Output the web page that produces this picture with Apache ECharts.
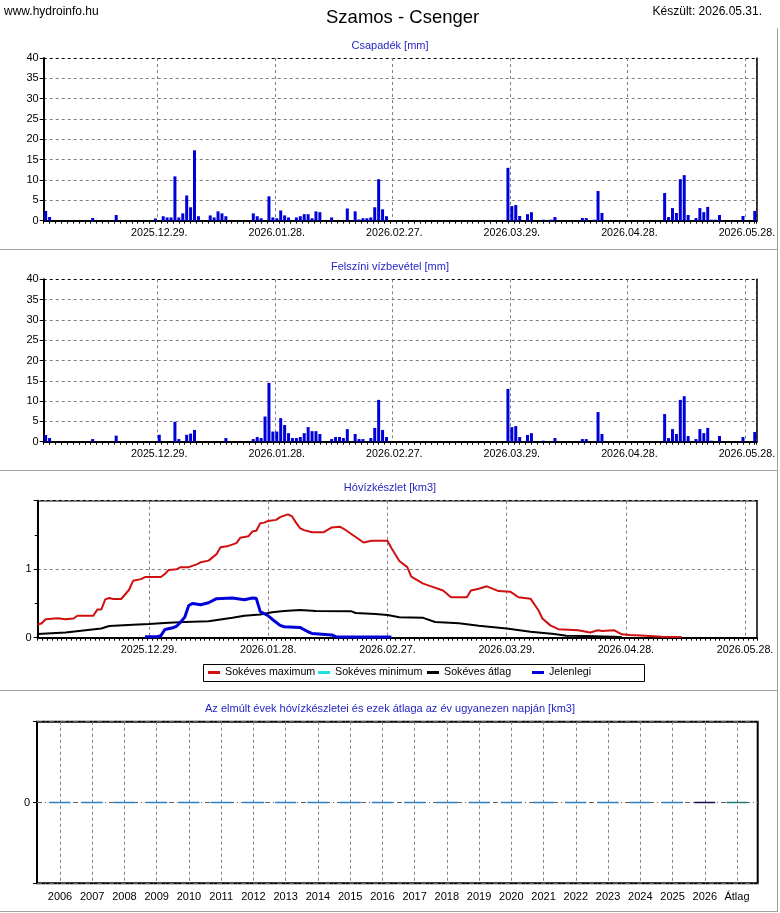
<!DOCTYPE html>
<html>
<head>
<meta charset="utf-8">
<title>Szamos - Csenger</title>
<script src="https://cdn.jsdelivr.net/npm/echarts@6/dist/echarts.min.js"></script>
<style>
html, body { margin: 0; padding: 0; background: #fff; }
#main { width: 780px; height: 913px; }
</style>
</head>
<body>
<div id="main"></div>
<script>
var FONT = 'Liberation Sans, Arial, sans-serif';

// napi csapadék [mm]: [nap indexe, érték]
var csapadek = [[0,2.4],[1,0.9],[12,0.65],[18,1.4],[28,0.55],[30,1.1],[31,0.8],[32,0.8],[33,10.9],[34,0.8],
  [35,1.8],[36,6.2],[37,3.3],[38,17.3],[39,1.1],[42,1.3],[43,0.8],[44,2.3],[45,1.8],[46,1.1],
  [53,1.8],[54,1.1],[55,0.6],[57,6.0],[58,0.8],[59,0.6],[60,2.5],[61,1.3],[62,0.8],[64,0.8],
  [65,1.1],[66,1.6],[67,1.6],[68,0.6],[69,2.3],[70,2.1],[73,0.8],[77,3.0],[79,2.3],[80,0.3],
  [81,0.6],[82,0.6],[83,0.8],[84,3.3],[85,10.2],[86,2.8],[87,1.1],[118,13.0],[119,3.6],[120,3.85],
  [121,1.15],[123,1.6],[124,2.1],[127,0.25],[129,0.25],[130,0.9],[137,0.65],[138,0.65],[140,0.25],[141,7.3],
  [142,1.9],[158,6.8],[159,0.9],[160,3.1],[161,1.9],[162,10.2],[163,11.2],[164,1.4],[166,0.65],[167,3.1],
  [168,2.1],[169,3.4],[170,0.25],[171,0.25],[172,1.4],[178,1.15],[181,2.4]];

// napi felszíni vízbevétel [mm]
var felszini = [[0,1.65],[1,0.9],[12,0.65],[18,1.5],[29,1.7],[33,4.9],[34,0.65],[36,1.7],[37,2.0],[38,2.9],
  [46,0.9],[53,0.65],[54,1.15],[55,0.9],[56,6.2],[57,14.5],[58,2.5],[59,2.5],[60,5.8],[61,4.1],
  [62,2.1],[63,0.9],[64,0.9],[65,1.15],[66,2.1],[67,3.6],[68,2.6],[69,2.6],[70,1.9],[73,0.65],
  [74,1.15],[75,1.15],[76,0.9],[77,3.1],[79,1.9],[80,0.65],[81,0.65],[83,0.9],[84,3.4],[85,10.3],
  [86,2.9],[87,1.15],[118,13.0],[119,3.6],[120,3.85],[121,1.15],[123,1.65],[124,2.1],[127,0.25],[130,0.9],
  [137,0.65],[138,0.65],[141,7.3],[142,1.9],[158,6.8],[159,0.9],[160,3.1],[161,1.9],[162,10.3],[163,11.2],
  [164,1.4],[166,0.65],[167,3.1],[168,2.1],[169,3.4],[170,0.25],[172,1.4],[178,1.15],[181,2.4]];

// hóvízkészlet [km3], nap indexe 2025.12.01-től
var hoMax = [[0,0.19],[1,0.21],[2,0.27],[5,0.285],[7,0.27],[9,0.28],[10,0.32],[14,0.32],[15,0.41],[16,0.41],
  [17,0.56],[18,0.58],[19,0.565],[21,0.565],[23,0.70],[24,0.83],[26,0.855],[27,0.885],[31,0.885],[32,0.93],
  [33,0.99],[35,1.0],[36,1.03],[38,1.03],[40,1.07],[41,1.10],[43,1.125],[45,1.22],[46,1.32],[48,1.34],
  [50,1.38],[51,1.46],[53,1.48],[54,1.55],[55,1.56],[56,1.67],[57,1.68],[58,1.705],[60,1.72],[61,1.76],
  [63,1.80],[64,1.77],[65,1.68],[66,1.60],[67,1.57],[69,1.54],[72,1.54],[74,1.61],[76,1.62],[77,1.59],
  [79,1.51],[82,1.39],[84,1.415],[88,1.415],[89,1.31],[91,1.12],[93,1.03],[94,0.89],[97,0.79],[99,0.75],
  [102,0.69],[104,0.59],[108,0.59],[109,0.69],[111,0.715],[113,0.75],[116,0.68],[119,0.67],[121,0.59],[124,0.57],
  [126,0.40],[127,0.28],[129,0.18],[131,0.125],[136,0.11],[139,0.077],[141,0.11],[142,0.097],[145,0.11],[147,0.05],
  [149,0.04],[153,0.03],[157,0.015],[162,0.01]];
var hoMin = [];
var hoAtlag = [[0,0.053],[7,0.077],[16,0.135],[18,0.17],[24,0.19],[28,0.20],[33,0.22],[37,0.23],[43,0.24],[46,0.265],
  [49,0.29],[52,0.32],[56,0.34],[59,0.37],[62,0.39],[66,0.405],[70,0.39],[79,0.385],[80,0.36],[85,0.345],
  [88,0.33],[91,0.30],[97,0.29],[100,0.23],[106,0.21],[111,0.175],[118,0.135],[124,0.087],[130,0.053],[133,0.03],
  [138,0.024],[145,0.015],[147,0.005]];
var hoJelen = [[27,0.015],[30,0.015],[31,0.03],[32,0.12],[34,0.145],[35,0.17],[36,0.23],[37,0.30],[38,0.47],[39,0.50],
  [41,0.48],[43,0.51],[45,0.57],[49,0.58],[52,0.555],[54,0.58],[55,0.575],[56,0.38],[58,0.32],[59,0.27],
  [61,0.18],[62,0.16],[66,0.15],[68,0.087],[69,0.063],[74,0.04],[75,0.015],[80,0.01],[89,0.01]];

// az elmúlt évek hóvízkészlete az év ugyanezen napján
var evek = ['2006','2007','2008','2009','2010','2011','2012','2013','2014','2015','2016',
  '2017','2018','2019','2020','2021','2022','2023','2024','2025','2026','Átlag'];
var evekErtek = [0,0,0,0,0,0,0,0,0,0,0,0,0,0,0,0,0,0,0,0,0,0];

var cimkek1 = [29, 59, 89, 119, 149, 179];   // 2025.12.29. ... 2026.05.28.
var cimkek3 = [28, 58, 88, 118, 148, 178];
var jelmagyarazat = ['Sokéves maximum', 'Sokéves minimum', 'Sokéves átlag', 'Jelenlegi'];

function pad(n) { return n < 10 ? '0' + n : '' + n; }
function napok(ev, ho, nap, db) {
    var out = [];
    for (var i = 0; i < db; i++) {
        var d = new Date(Date.UTC(ev, ho - 1, nap + i));
        out.push(d.getUTCFullYear() + '.' + pad(d.getUTCMonth() + 1) + '.' + pad(d.getUTCDate()) + '.');
    }
    return out;
}
var datum1 = napok(2025, 11, 30, 182);
var datum3 = napok(2025, 12, 1, 182);

function datumTengely(gi, data, idx, gap) {
    var sel = function (i) { return idx.indexOf(i) >= 0; };
    return {
        type: 'category', gridIndex: gi, data: data, boundaryGap: gap, position: 'bottom',
        axisLine: { onZero: false, lineStyle: { color: '#000', width: 2 } },
        axisTick: { show: false },
        axisLabel: { interval: sel, color: '#000', fontFamily: FONT, fontSize: 10.7, margin: 7 },
        splitLine: { show: true, interval: sel, lineStyle: { color: '#808080', type: [3, 3] } }
    };
}
function tickTengely(gi, max, step) {
    return {
        type: 'value', gridIndex: gi, min: 0, max: max, interval: step, position: 'bottom',
        axisLine: { show: false }, axisLabel: { show: false }, splitLine: { show: false },
        axisTick: { show: true, length: 3, lineStyle: { color: '#000' } }
    };
}
function csapTengely(gi) {
    return {
        type: 'value', gridIndex: gi, min: 0, max: 40, interval: 5,
        axisLine: { show: true, lineStyle: { color: '#000', width: 2 } },
        axisTick: { show: true, length: 4, lineStyle: { color: '#000' } },
        axisLabel: { color: '#000', fontFamily: FONT, fontSize: 11, margin: 5 },
        splitLine: { lineStyle: { color: ['#808080','#808080','#808080','#808080','#808080','#808080','#808080','#808080','#000'], type: [3, 3] } }
    };
}
function jobbKeret(gi) {
    return {
        type: 'value', gridIndex: gi, position: 'right', min: 0, max: 40,
        axisLine: { show: true, lineStyle: { color: '#000', width: 1.5 } },
        axisTick: { show: false }, axisLabel: { show: false }, splitLine: { show: false }
    };
}
function alcim(text, top) {
    return { text: text, left: 'center', top: top, padding: 0,
        textStyle: { fontSize: 11, fontWeight: 'normal', color: '#2525c5', fontFamily: FONT } };
}
function elvalaszto(y) {
    return { type: 'line', shape: { x1: 0, y1: y, x2: 778, y2: y }, style: { stroke: '#a0a0a0', lineWidth: 1 } };
}
// egy-egy jelmagyarázat tétel, rögzített oszlopszélességgel
var legendX = [208, 318, 427, 532];
var legends = jelmagyarazat.map(function (n, i) {
    return { data: [n], left: legendX[i], top: 667, padding: 0, icon: 'rect', itemWidth: 12, itemHeight: 3,
        textStyle: { fontSize: 10.7, color: '#000', fontFamily: FONT } };
});

var evSzinek = evek.map(function (e) {
    return e === '2026' ? '#101050' : (e === 'Átlag' ? '#207a7a' : '#2f7fc0');
});

var myChart = echarts.init(document.getElementById('main'));
var option = {
    backgroundColor: '#fff',
    animation: false,
    textStyle: { fontFamily: FONT },
    title: [
        { text: 'www.hydroinfo.hu', left: 4, top: 6, padding: 0,
          textStyle: { fontSize: 12, fontWeight: 'normal', color: '#000', fontFamily: FONT } },
        { text: 'Szamos - Csenger', left: 326, top: 8, padding: 0,
          textStyle: { fontSize: 18.5, fontWeight: 'normal', color: '#000', fontFamily: FONT } },
        { text: 'Készült: 2026.05.31.', right: 18, top: 6, padding: 0,
          textStyle: { fontSize: 12, fontWeight: 'normal', color: '#000', fontFamily: FONT } },
        alcim('Csapadék [mm]', 40),
        alcim('Felszíni vízbevétel [mm]', 261),
        alcim('Hóvízkészlet [km3]', 482),
        alcim('Az elmúlt évek hóvízkészletei és ezek átlaga az év ugyanezen napján [km3]', 703)
    ],
    legend: legends,
    grid: [
        { left: 43.7, top: 58, width: 713, height: 162.7 },
        { left: 43.7, top: 279.3, width: 713, height: 162.4 },
        { left: 37.7, top: 500.7, width: 719.3, height: 137, show: true, borderColor: '#000', borderWidth: 1.5 },
        { left: 37, top: 721.7, width: 720.7, height: 161.6, show: true, borderColor: '#000', borderWidth: 2 },
        { left: 60, top: 721.7, width: 677, height: 161.6 }
    ],
    xAxis: [
        datumTengely(0, datum1, cimkek1, true),
        tickTengely(0, 182, 1.5),
        datumTengely(1, datum1, cimkek1, true),
        tickTengely(1, 182, 1.5),
        datumTengely(2, datum3, cimkek3, false),
        tickTengely(2, 181, 1.2),
        { type: 'value', gridIndex: 3, show: false },
        { type: 'category', gridIndex: 4, data: evek, boundaryGap: false, position: 'bottom',
          axisLine: { show: false, onZero: false }, axisTick: { show: false },
          axisLabel: { interval: 0, color: '#000', fontFamily: FONT, fontSize: 11, margin: 8 },
          splitLine: { show: true, interval: 0, lineStyle: { color: '#808080', type: [3, 3] } } }
    ],
    yAxis: [
        csapTengely(0),
        jobbKeret(0),
        csapTengely(1),
        jobbKeret(1),
        { type: 'value', gridIndex: 2, min: 0, max: 2, interval: 1,
          axisLine: { show: true, lineStyle: { color: '#000', width: 2 } },
          axisTick: { show: true, length: 4, lineStyle: { color: '#000' } },
          minorTick: { show: true, splitNumber: 2, length: 3, lineStyle: { color: '#000' } },
          axisLabel: { showMaxLabel: false, color: '#000', fontFamily: FONT, fontSize: 11, margin: 6 },
          splitLine: { lineStyle: { color: '#808080', type: [3, 3] } } },
        { type: 'value', gridIndex: 3, min: -1, max: 1, interval: 1,
          axisLine: { show: false },
          axisTick: { show: true, length: 4, lineStyle: { color: '#000' } },
          axisLabel: { color: '#000', fontFamily: FONT, fontSize: 11, margin: 7,
                       formatter: function (v) { return v === 0 ? '0' : ''; } },
          splitLine: { lineStyle: { color: '#606060', type: [5, 3, 1, 3] } } },
        { type: 'value', gridIndex: 4, min: -1, max: 1, show: false }
    ],
    series: [
        { type: 'bar', xAxisIndex: 0, yAxisIndex: 0, data: csapadek, barWidth: 3,
          itemStyle: { color: '#0000d8' }, silent: true },
        { type: 'bar', xAxisIndex: 2, yAxisIndex: 2, data: felszini, barWidth: 3,
          itemStyle: { color: '#0000d8' }, silent: true },
        { name: 'Sokéves maximum', type: 'line', xAxisIndex: 4, yAxisIndex: 4, data: hoMax,
          showSymbol: false, lineStyle: { color: '#d01010', width: 2 }, itemStyle: { color: '#d01010' } },
        { name: 'Sokéves minimum', type: 'line', xAxisIndex: 4, yAxisIndex: 4, data: hoMin,
          showSymbol: false, lineStyle: { color: '#20e0e0', width: 2 }, itemStyle: { color: '#20e0e0' } },
        { name: 'Sokéves átlag', type: 'line', xAxisIndex: 4, yAxisIndex: 4, data: hoAtlag,
          showSymbol: false, lineStyle: { color: '#000', width: 2 }, itemStyle: { color: '#000' } },
        { name: 'Jelenlegi', type: 'line', xAxisIndex: 4, yAxisIndex: 4, data: hoJelen,
          showSymbol: false, lineStyle: { color: '#0000d8', width: 3 }, itemStyle: { color: '#0000d8' } },
        { type: 'bar', xAxisIndex: 7, yAxisIndex: 6, barWidth: 21, clip: false, silent: true,
          data: evekErtek.map(function (v, i) {
              return { value: v, itemStyle: { color: 'rgba(0,0,0,0)', borderColor: evSzinek[i], borderWidth: 1.5 } };
          }) }
    ],
    graphic: [
        elvalaszto(249.5), elvalaszto(470.5), elvalaszto(690.5), elvalaszto(911.5),
        { type: 'line', shape: { x1: 777.5, y1: 28, x2: 777.5, y2: 911.5 }, style: { stroke: '#a0a0a0', lineWidth: 1 } },
        { type: 'rect', shape: { x: 203.5, y: 664.5, width: 441, height: 17 },
          style: { fill: 'none', stroke: '#000', lineWidth: 1 }, silent: true }
    ]
};
if (option && typeof option === "object") {
    myChart.setOption(option, true);
}
</script>
</body>
</html>
